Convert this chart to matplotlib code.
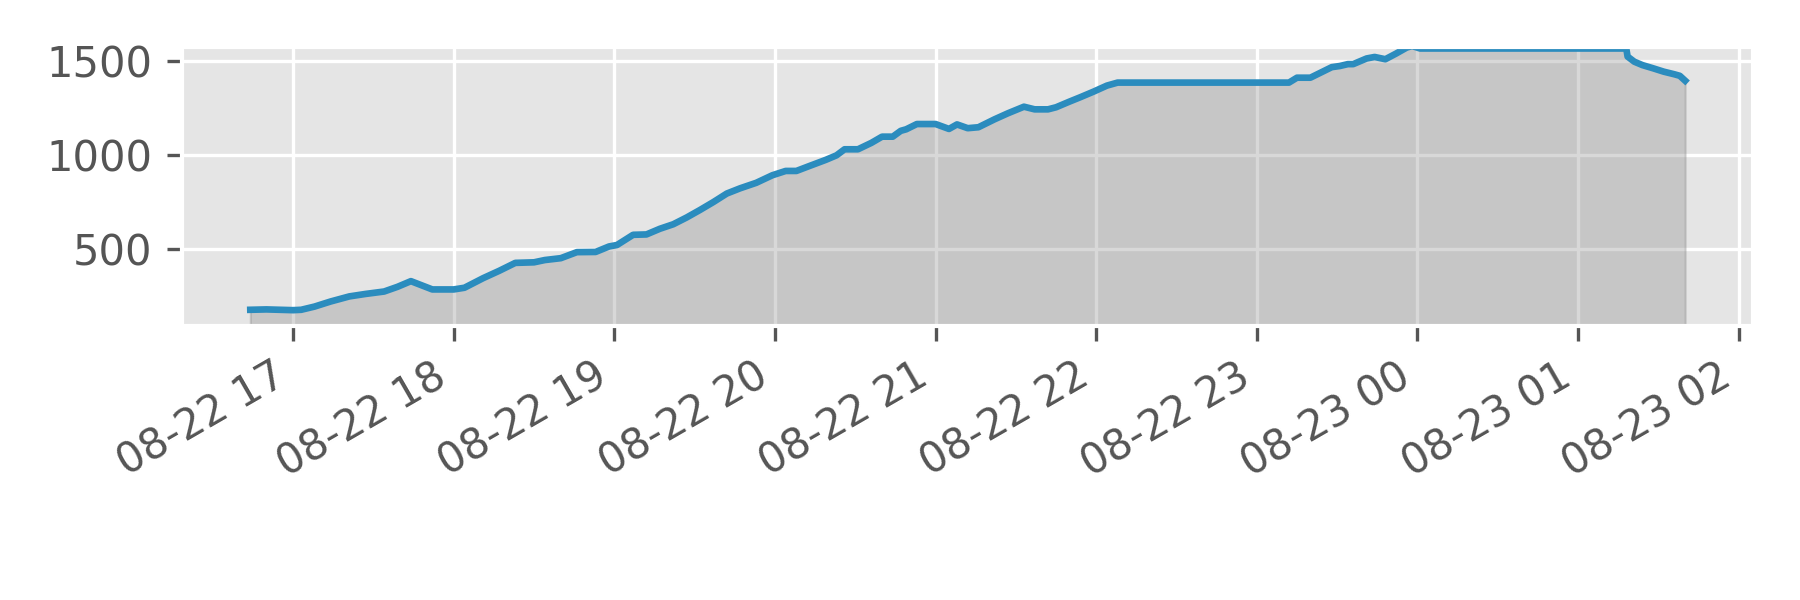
import matplotlib
matplotlib.use("Agg")
import matplotlib.pyplot as plt
import matplotlib.dates as mdates
import pandas as pd

plt.style.use("ggplot")

# readings (time, value)
times = [
    "2020-08-22 16:44", "2020-08-22 16:50", "2020-08-22 17:00", "2020-08-22 17:03",
    "2020-08-22 17:08", "2020-08-22 17:14", "2020-08-22 17:21", "2020-08-22 17:27",
    "2020-08-22 17:34", "2020-08-22 17:39", "2020-08-22 17:44", "2020-08-22 17:48",
    "2020-08-22 17:52", "2020-08-22 18:00", "2020-08-22 18:04", "2020-08-22 18:11",
    "2020-08-22 18:17", "2020-08-22 18:23", "2020-08-22 18:30", "2020-08-22 18:34",
    "2020-08-22 18:40", "2020-08-22 18:46", "2020-08-22 18:53", "2020-08-22 18:58",
    "2020-08-22 19:01", "2020-08-22 19:07", "2020-08-22 19:12", "2020-08-22 19:17",
    "2020-08-22 19:22", "2020-08-22 19:27", "2020-08-22 19:32", "2020-08-22 19:37",
    "2020-08-22 19:42", "2020-08-22 19:47", "2020-08-22 19:53", "2020-08-22 19:59",
    "2020-08-22 20:04", "2020-08-22 20:08", "2020-08-22 20:13", "2020-08-22 20:19",
    "2020-08-22 20:23", "2020-08-22 20:26", "2020-08-22 20:31", "2020-08-22 20:36",
    "2020-08-22 20:40", "2020-08-22 20:44", "2020-08-22 20:47", "2020-08-22 20:49",
    "2020-08-22 20:53", "2020-08-22 21:00", "2020-08-22 21:05", "2020-08-22 21:08",
    "2020-08-22 21:12", "2020-08-22 21:16", "2020-08-22 21:22", "2020-08-22 21:27",
    "2020-08-22 21:33", "2020-08-22 21:37", "2020-08-22 21:42", "2020-08-22 21:45",
    "2020-08-22 21:50", "2020-08-22 21:54", "2020-08-22 21:59", "2020-08-22 22:04",
    "2020-08-22 22:08", "2020-08-22 23:12", "2020-08-22 23:15", "2020-08-22 23:20",
    "2020-08-22 23:28", "2020-08-22 23:31", "2020-08-22 23:34", "2020-08-22 23:36",
    "2020-08-22 23:41", "2020-08-22 23:44", "2020-08-22 23:48", "2020-08-22 23:52",
    "2020-08-22 23:56", "2020-08-22 23:58", "2020-08-23 00:01", "2020-08-23 01:18",
    "2020-08-23 01:18:30", "2020-08-23 01:21", "2020-08-23 01:24", "2020-08-23 01:28",
    "2020-08-23 01:32", "2020-08-23 01:36", "2020-08-23 01:38", "2020-08-23 01:40",
]
values = [
    178, 180, 176, 178,
    195, 222, 249, 262,
    275, 300, 330, 308,
    286, 286, 295, 346,
    385, 427, 430, 442,
    452, 484, 485, 514,
    522, 576, 578, 608,
    632, 668, 708, 750,
    795, 823, 852, 892,
    915, 915, 942, 974,
    998, 1030, 1030, 1064,
    1097, 1097, 1128, 1136,
    1164, 1164, 1138, 1162,
    1142, 1147, 1189, 1221,
    1256, 1242, 1242, 1253,
    1283, 1306, 1336, 1368,
    1384, 1384, 1410, 1410,
    1466, 1472, 1482, 1482,
    1512, 1520, 1508, 1538,
    1570, 1578, 1565, 1565,
    1522, 1495, 1477, 1460,
    1442, 1428, 1420, 1394,
]

x = pd.to_datetime(times, format="mixed")

fig, ax = plt.subplots(figsize=(6, 2), dpi=300)
ax.plot(x, values, color="#2b8cbe", linewidth=1.6)
ax.fill_between(x, values, color="gray", alpha=0.3)

ax.set_xlim(pd.Timestamp("2020-08-22 16:18:25"), pd.Timestamp("2020-08-23 02:05:25"))
ax.set_ylim(93, 1574)
ax.set_yticks([500, 1000, 1500])
ax.xaxis.set_major_locator(mdates.HourLocator())
ax.xaxis.set_major_formatter(mdates.DateFormatter("%m-%d %H"))
for lbl in ax.get_xticklabels():
    lbl.set_rotation(30)
    lbl.set_ha("right")

fig.subplots_adjust(left=0.101, right=0.974, bottom=0.457, top=0.922)
fig.savefig("out.png")
